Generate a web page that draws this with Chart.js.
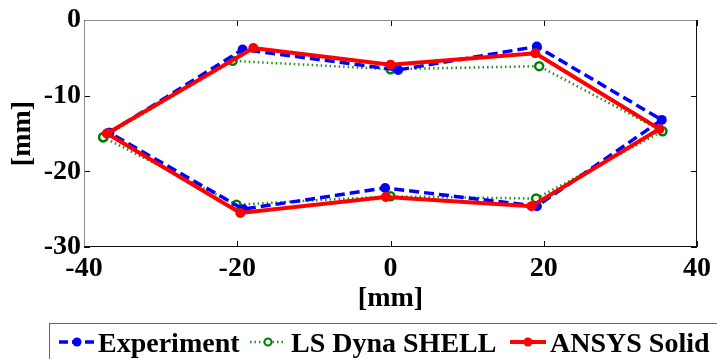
<!DOCTYPE html>
<html>
<head>
<meta charset="utf-8">
<script src="https://cdn.jsdelivr.net/npm/chart.js@4.4.1/dist/chart.umd.min.js"></script>
<style>
  body { margin: 0; background: #fff; }
  #wrap { position: relative; width: 717px; height: 359px; overflow: hidden; background: #fff; }
  #legend { position: absolute; left: 49px; top: 323px; width: 720px; height: 60px;
            border: 1px solid #666; box-sizing: border-box; }
  .lab { position: absolute; top: 5px; font: bold 28px "Liberation Serif", "Times New Roman", serif;
         line-height: 28px; white-space: nowrap; color: #000; }
  .smp { position: absolute; top: 8px; }
</style>
</head>
<body>
<div id="wrap">
  <canvas id="grafico" width="717" height="359"></canvas>
  <div id="legend"></div>
</div>
<script>
// Datos (poligonos cerrados, el ultimo punto repite el primero)
const seriesNames = ['Experiment', 'LS Dyna SHELL', 'ANSYS Solid'];

const expX = [-36.7, -19.3, 1.0, 19.1, 35.4, 19.1, -0.7, -19.2, -36.7];
const expY = [-14.9, -3.9, -6.6, -3.5, -13.2, -24.6, -22.2, -25.0, -14.9];

const lsX = [-37.5, -20.6, 0.0, 19.4, 35.5, 19.0, 0.0, -20.1, -37.5];
const lsY = [-15.5, -5.4, -6.5, -6.1, -14.7, -23.6, -23.3, -24.4, -15.5];

const ansX = [-37.0, -17.9, 0.0, 18.9, 35.1, 18.4, -0.6, -19.6, -37.0];
const ansY = [-15.0, -3.7, -5.9, -4.4, -14.4, -24.6, -23.4, -25.5, -15.0];

const xTicks = [-40, -20, 0, 20, 40];
const yTicks = [-30, -20, -10, 0];

const FUENTE = '"Liberation Serif", "Times New Roman", serif';

function puntos(xs, ys) {
  return xs.map((x, i) => ({ x: x, y: ys[i] }));
}

// Marco estilo MATLAB con marcas hacia dentro
const marcoPlugin = {
  id: 'marco',
  beforeDatasetsDraw(chart) {
    const { ctx, chartArea: a, scales } = chart;
    ctx.save();
    ctx.lineWidth = 1;
    ctx.strokeStyle = '#000';
    xTicks.forEach(v => {
      const px = Math.round(scales.x.getPixelForValue(v)) + 0.5;
      ctx.beginPath();
      ctx.moveTo(px, a.bottom); ctx.lineTo(px, a.bottom - 6);
      ctx.moveTo(px, a.top); ctx.lineTo(px, a.top + 6);
      ctx.stroke();
    });
    yTicks.forEach(v => {
      const py = Math.round(scales.y.getPixelForValue(v)) + 0.5;
      ctx.beginPath();
      ctx.moveTo(a.left, py); ctx.lineTo(a.left + 6, py);
      ctx.moveTo(a.right, py); ctx.lineTo(a.right - 6, py);
      ctx.stroke();
    });
    // bordes
    const l = Math.round(a.left) + 0.5, r = Math.round(a.right) - 0.5;
    const t = Math.round(a.top) + 0.5, b = Math.round(a.bottom) - 0.5;
    ctx.strokeStyle = '#8a8a8a';
    ctx.beginPath();
    ctx.moveTo(l, b); ctx.lineTo(l, t); ctx.lineTo(r, t);
    ctx.stroke();
    ctx.strokeStyle = '#111';
    ctx.beginPath();
    ctx.moveTo(l, b); ctx.lineTo(r, b); ctx.lineTo(r, t);
    ctx.stroke();
    ctx.restore();
  }
};

const canvas = document.getElementById('grafico');
new Chart(canvas, {
  type: 'scatter',
  data: {
    datasets: [
      {
        label: seriesNames[0],
        data: puntos(expX, expY),
        showLine: true,
        borderColor: '#0000ff',
        backgroundColor: '#0000ff',
        borderWidth: 3.5,
        borderDash: [10, 5],
        pointRadius: 5,
        pointBorderWidth: 0,
        pointBackgroundColor: '#0000ff',
        order: 1
      },
      {
        label: seriesNames[1],
        data: puntos(lsX, lsY),
        showLine: true,
        borderColor: '#1f8f1f',
        backgroundColor: '#ffffff',
        borderWidth: 2.5,
        borderDash: [1.5, 3],
        pointRadius: 4,
        pointBorderWidth: 2.5,
        pointBorderColor: '#008000',
        pointBackgroundColor: '#ffffff',
        order: 2
      },
      {
        label: seriesNames[2],
        data: puntos(ansX, ansY),
        showLine: true,
        borderColor: '#ff0000',
        backgroundColor: '#ff0000',
        borderWidth: 4,
        pointRadius: 5,
        pointBorderWidth: 0,
        pointBackgroundColor: '#ff0000',
        order: 0
      }
    ]
  },
  options: {
    responsive: false,
    animation: false,
    layout: { padding: { left: 0, right: 20, top: 20, bottom: 46 } },
    plugins: { legend: { display: false }, tooltip: { enabled: false } },
    elements: { line: { tension: 0 } },
    scales: {
      x: {
        type: 'linear',
        min: -40, max: 40,
        afterBuildTicks: (s) => { s.ticks = xTicks.map(v => ({ value: v })); },
        afterFit: (s) => { s.height = 66; },
        grid: { display: false, drawTicks: false },
        border: { display: false },
        ticks: { color: '#000', padding: 5, font: { family: FUENTE, size: 28, weight: 'bold' } },
        title: { display: true, text: '[mm]', color: '#000', padding: 0,
                 font: { family: FUENTE, size: 28, weight: 'bold', lineHeight: 1 } }
      },
      y: {
        type: 'linear',
        min: -30, max: 0,
        afterBuildTicks: (s) => { s.ticks = yTicks.map(v => ({ value: v })); },
        afterFit: (s) => { s.width = 84; },
        grid: { display: false, drawTicks: false },
        border: { display: false },
        ticks: { color: '#000', padding: 3, font: { family: FUENTE, size: 28, weight: 'bold' } },
        title: { display: true, text: '[mm]', color: '#000', padding: { top: 9, bottom: 0 },
                 font: { family: FUENTE, size: 28, weight: 'bold', lineHeight: 1 } }
      }
    }
  },
  plugins: [marcoPlugin]
});

// Leyenda en HTML
const leyenda = document.getElementById('legend');
const items = [
  { name: seriesNames[0], sx: 9, tx: 48, color: '#0000ff', dash: '9,4', w: 3.5, r: 4.5, hollow: false },
  { name: seriesNames[1], sx: 200, tx: 241, color: '#1f8f1f', dash: '1.5,3', w: 2.5, r: 3.5, hollow: true },
  { name: seriesNames[2], sx: 460, tx: 500, color: '#ff0000', dash: '', w: 4, r: 4.5, hollow: false }
];
items.forEach(it => {
  const svg = document.createElementNS('http://www.w3.org/2000/svg', 'svg');
  svg.setAttribute('class', 'smp');
  svg.setAttribute('width', '36');
  svg.setAttribute('height', '20');
  svg.style.left = it.sx + 'px';
  const ln = document.createElementNS('http://www.w3.org/2000/svg', 'line');
  ln.setAttribute('x1', '0'); ln.setAttribute('x2', '36');
  ln.setAttribute('y1', '10'); ln.setAttribute('y2', '10');
  ln.setAttribute('stroke', it.color);
  ln.setAttribute('stroke-width', it.w);
  if (it.dash) ln.setAttribute('stroke-dasharray', it.dash);
  svg.appendChild(ln);
  const c = document.createElementNS('http://www.w3.org/2000/svg', 'circle');
  c.setAttribute('cx', '18'); c.setAttribute('cy', '10'); c.setAttribute('r', it.r);
  c.setAttribute('fill', it.hollow ? '#fff' : it.color);
  c.setAttribute('stroke', it.hollow ? '#008000' : 'none');
  c.setAttribute('stroke-width', it.hollow ? 2 : 0);
  svg.appendChild(c);
  leyenda.appendChild(svg);
  const sp = document.createElement('span');
  sp.className = 'lab';
  sp.style.left = it.tx + 'px';
  sp.textContent = it.name;
  leyenda.appendChild(sp);
});
</script>
</body>
</html>
